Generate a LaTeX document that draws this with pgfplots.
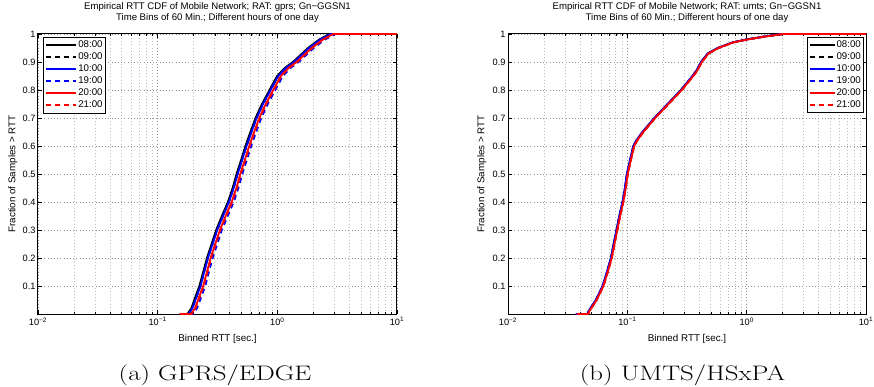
\documentclass[border=0pt]{standalone}
\usepackage{graphicx}
\usepackage{pgfplots}
\pgfplotsset{compat=1.18}
\usepackage{pgfplotstable}
\usepackage{fontspec}
\newfontfamily\hv{Liberation Sans}

% GPRS: 08:00
\pgfplotstableread{
x y
0.153 0
0.177 0
0.191 0.02
0.206 0.06
0.223 0.1
0.240 0.15
0.258 0.2
0.282 0.25
0.308 0.3
0.344 0.35
0.386 0.4
0.423 0.45
0.456 0.5
0.498 0.55
0.541 0.6
0.595 0.65
0.657 0.7
0.744 0.75
0.860 0.8
0.995 0.85
1.163 0.88
1.349 0.9
1.804 0.95
2.232 0.98
2.725 1.0
10 1.0
}\gA
% GPRS: 09:00 / 10:00
\pgfplotstableread{
x y
0.153 0
0.181 0
0.195 0.02
0.211 0.06
0.228 0.1
0.245 0.15
0.263 0.2
0.288 0.25
0.314 0.3
0.352 0.35
0.394 0.4
0.432 0.45
0.466 0.5
0.508 0.55
0.553 0.6
0.608 0.65
0.671 0.7
0.760 0.75
0.879 0.8
1.017 0.85
1.188 0.88
1.378 0.9
1.843 0.95
2.28 0.98
2.78 1.0
10 1.0
}\gB
% GPRS: 20:00
\pgfplotstableread{
x y
0.153 0
0.19 0
0.205 0.02
0.222 0.06
0.240 0.1
0.258 0.15
0.277 0.2
0.303 0.25
0.331 0.3
0.37 0.35
0.415 0.4
0.455 0.45
0.49 0.5
0.535 0.55
0.582 0.6
0.64 0.65
0.706 0.7
0.80 0.75
0.925 0.8
1.07 0.85
1.25 0.88
1.45 0.9
1.94 0.95
2.4 0.98
2.93 1.0
10 1.0
}\gC
% GPRS: 21:00
\pgfplotstableread{
x y
0.153 0
0.192 0
0.207 0.02
0.224 0.06
0.242 0.1
0.261 0.15
0.280 0.2
0.306 0.25
0.334 0.3
0.374 0.35
0.419 0.4
0.460 0.45
0.495 0.5
0.540 0.55
0.588 0.6
0.646 0.65
0.713 0.7
0.808 0.75
0.934 0.8
1.081 0.85
1.263 0.88
1.465 0.9
1.959 0.95
2.424 0.98
2.96 1.0
10 1.0
}\gD
% GPRS: 19:00
\pgfplotstableread{
x y
0.153 0
0.198 0
0.213 0.02
0.231 0.06
0.250 0.1
0.268 0.15
0.288 0.2
0.315 0.25
0.344 0.3
0.385 0.35
0.432 0.4
0.473 0.45
0.510 0.5
0.556 0.55
0.605 0.6
0.666 0.65
0.734 0.7
0.832 0.75
0.962 0.8
1.113 0.85
1.30 0.88
1.508 0.9
2.018 0.95
2.496 0.98
3.05 1.0
10 1.0
}\gE

% UMTS: red / black dashed
\pgfplotstableread{
x y
0.0377 0
0.047 0
0.048 0.01
0.0553 0.05
0.063 0.1
0.0685 0.15
0.074 0.2
0.078 0.25
0.0824 0.3
0.087 0.35
0.0925 0.4
0.097 0.45
0.1007 0.5
0.107 0.55
0.114 0.6
0.121 0.62
0.136 0.65
0.171 0.7
0.221 0.75
0.286 0.8
0.357 0.85
0.386 0.87
0.421 0.9
0.478 0.93
0.58 0.95
0.774 0.97
1.0 0.98
1.38 0.99
2.03 1.0
10 1.0
}\uA
% UMTS: blue / black solid
\pgfplotstableread{
x y
0.0371 0
0.0463 0
0.0473 0.01
0.0545 0.05
0.0621 0.1
0.0675 0.15
0.0729 0.2
0.0768 0.25
0.0812 0.3
0.0857 0.35
0.0911 0.4
0.0955 0.45
0.0992 0.5
0.1054 0.55
0.1123 0.6
0.1192 0.62
0.134 0.65
0.1684 0.7
0.2177 0.75
0.2817 0.8
0.3516 0.85
0.3802 0.87
0.4147 0.9
0.4708 0.93
0.5713 0.95
0.7624 0.97
0.985 0.98
1.359 0.99
2.0 1.0
10 1.0
}\uB

\tikzset{dsh/.style={dash pattern=on 5pt off 4pt}}

\begin{document}
\begin{tikzpicture}
\useasboundingbox (0,0) rectangle (874pt,386pt);
\begin{axis}[xmode=log, scale only axis, width=359pt, height=280pt,
    at={(38pt,72pt)}, anchor=south west,
    xmin=0.01, xmax=10, ymin=0, ymax=1,
    xtick={0.01,0.1,1,10},
    xticklabels={10\textsuperscript{−2},10\textsuperscript{−1},10\textsuperscript{0},10\textsuperscript{1}},
    ytick={0.1,0.2,0.3,0.4,0.5,0.6,0.7,0.8,0.9,1},
    yticklabels={0.1,0.2,0.3,0.4,0.5,0.6,0.7,0.8,0.9,1},
    /pgf/number format/assume math mode=true,
    tick label style={font=\hv\fontsize{9.2}{10}\selectfont},
    yticklabel style={xshift=1pt},
    label style={font=\hv\fontsize{9.8}{11}\selectfont},
    title style={font=\hv\fontsize{9.6}{11.5}\selectfont, align=center, at={(0.5,1)}, anchor=south, yshift=1.5pt},
    xlabel={Binned RTT [sec.]},
    ylabel={Fraction of Samples > RTT},
    xlabel style={at={(axis description cs:0.5,0)}, anchor=base, yshift=-27pt},
    ylabel style={at={(axis description cs:-0.07,0.5)}, anchor=center},
    tick align=inside, major tick length=4pt, minor tick length=2pt,
    xmajorgrids, xminorgrids, ymajorgrids,
    major grid style={dash pattern=on 0.8pt off 2.4pt, gray!85, line width=0.6pt},
    minor grid style={dash pattern=on 0.8pt off 2.4pt, gray!55, line width=0.6pt},
    axis line style={line width=1pt},
    every tick/.style={black, line width=0.5pt},
    legend cell align=left,
    legend image code/.code={\draw[#1, line width=1.8pt] (0pt,0pt) -- (30pt,0pt);},
    legend style={font=\hv\fontsize{9.7}{11}\selectfont, draw=black, line width=1pt, inner sep=2pt,
      nodes={inner sep=1pt, text height=7.5pt, text depth=2.5pt}, row sep=0pt,
      at={(0.014,0.99)}, anchor=north west},
    every axis plot/.append style={line width=1.8pt},
  title={Empirical RTT CDF of Mobile Network; RAT: gprs; Gn−GGSN1\\Time Bins of 60 Min.; Different hours of one day}]
\addplot[black] table[x=x,y=y] {\gA};
\addplot[black, dsh] table[x=x,y=y] {\gB};
\addplot[blue] table[x=x,y=y] {\gB};
\addplot[blue, dsh] table[x=x,y=y] {\gE};
\addplot[red] table[x=x,y=y] {\gC};
\addplot[red, dsh] table[x=x,y=y] {\gD};
\legend{08:00,09:00,10:00,19:00,20:00,21:00}
\end{axis}
\begin{axis}[xmode=log, scale only axis, width=358pt, height=280pt,
    at={(508pt,72pt)}, anchor=south west,
    xmin=0.01, xmax=10, ymin=0, ymax=1,
    xtick={0.01,0.1,1,10},
    xticklabels={10\textsuperscript{−2},10\textsuperscript{−1},10\textsuperscript{0},10\textsuperscript{1}},
    ytick={0.1,0.2,0.3,0.4,0.5,0.6,0.7,0.8,0.9,1},
    yticklabels={0.1,0.2,0.3,0.4,0.5,0.6,0.7,0.8,0.9,1},
    /pgf/number format/assume math mode=true,
    tick label style={font=\hv\fontsize{9.2}{10}\selectfont},
    yticklabel style={xshift=1pt},
    label style={font=\hv\fontsize{9.8}{11}\selectfont},
    title style={font=\hv\fontsize{9.6}{11.5}\selectfont, align=center, at={(0.5,1)}, anchor=south, yshift=1.5pt},
    xlabel={Binned RTT [sec.]},
    ylabel={Fraction of Samples > RTT},
    xlabel style={at={(axis description cs:0.5,0)}, anchor=base, yshift=-27pt},
    ylabel style={at={(axis description cs:-0.073,0.5)}, anchor=center},
    tick align=inside, major tick length=4pt, minor tick length=2pt,
    xmajorgrids, xminorgrids, ymajorgrids,
    major grid style={dash pattern=on 0.8pt off 2.4pt, gray!85, line width=0.6pt},
    minor grid style={dash pattern=on 0.8pt off 2.4pt, gray!55, line width=0.6pt},
    axis line style={line width=1pt},
    every tick/.style={black, line width=0.5pt},
    legend cell align=left,
    legend image code/.code={\draw[#1, line width=1.8pt] (0pt,0pt) -- (25pt,0pt);},
    legend style={font=\hv\fontsize{9.7}{11}\selectfont, draw=black, line width=1pt, inner sep=1.5pt,
      nodes={inner sep=1pt, text height=7.5pt, text depth=2.5pt}, row sep=0pt,
      at={(0.994,0.99)}, anchor=north east},
    every axis plot/.append style={line width=1.8pt},
  title={Empirical RTT CDF of Mobile Network; RAT: umts; Gn−GGSN1\\Time Bins of 60 Min.; Different hours of one day}]
\addplot[black] table[x=x,y=y] {\uB};
\addplot[black, dsh] table[x=x,y=y] {\uA};
\addplot[blue] table[x=x,y=y] {\uB};
\addplot[blue, dsh] table[x=x,y=y] {\uB};
\addplot[red] table[x=x,y=y] {\uA};
\addplot[red, dsh] table[x=x,y=y] {\uA};
\legend{08:00,09:00,10:00,19:00,20:00,21:00}
\end{axis}
\node at (215pt,11pt) {\scalebox{1.28}[1]{\fontsize{21}{24}\selectfont (a) GPRS/EDGE}};
\node at (682.5pt,11pt) {\scalebox{1.28}[1]{\fontsize{21}{24}\selectfont (b) UMTS/HSxPA}};
\end{tikzpicture}
\end{document}
